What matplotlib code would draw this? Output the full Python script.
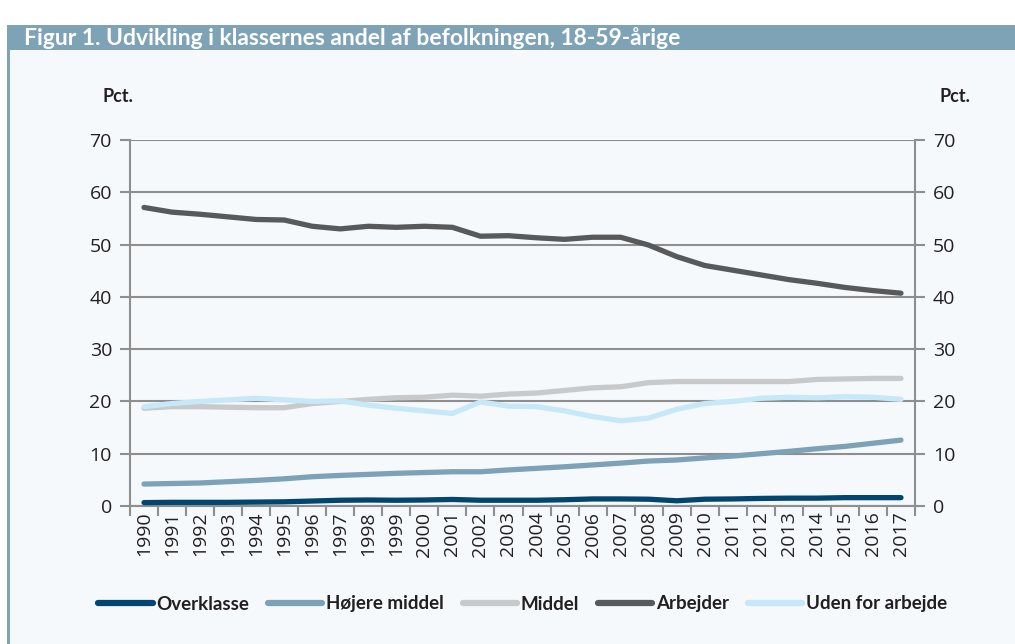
import matplotlib
matplotlib.use("Agg")
import matplotlib.pyplot as plt
from matplotlib.patches import Rectangle
from matplotlib.lines import Line2D
import numpy as np

years = [str(y) for y in range(1990, 2018)]
overklasse = [0.65, 0.7, 0.7, 0.7, 0.75, 0.8, 0.95, 1.1, 1.15, 1.1, 1.15, 1.25, 1.1, 1.1,
              1.1, 1.2, 1.35, 1.35, 1.3, 1.0, 1.3, 1.35, 1.45, 1.5, 1.5, 1.6, 1.6, 1.6]
hoejere_middel = [4.2, 4.3, 4.4, 4.65, 4.9, 5.2, 5.6, 5.85, 6.05, 6.25, 6.4, 6.55, 6.55, 6.9,
                  7.2, 7.5, 7.85, 8.2, 8.6, 8.8, 9.2, 9.55, 10.0, 10.45, 10.95, 11.4, 12.0, 12.6]
middel = [18.7, 19.0, 19.0, 18.9, 18.8, 18.8, 19.6, 20.0, 20.4, 20.7, 20.8, 21.2, 21.0, 21.4,
          21.6, 22.1, 22.6, 22.8, 23.6, 23.8, 23.8, 23.8, 23.8, 23.8, 24.2, 24.3, 24.4, 24.4]
arbejder = [57.1, 56.2, 55.8, 55.3, 54.8, 54.7, 53.5, 53.0, 53.5, 53.3, 53.5, 53.3, 51.6, 51.7,
            51.3, 51.0, 51.4, 51.4, 49.9, 47.7, 46.0, 45.1, 44.2, 43.3, 42.6, 41.8, 41.2, 40.7]
uden = [19.0, 19.6, 20.0, 20.3, 20.6, 20.3, 20.0, 20.1, 19.3, 18.7, 18.2, 17.7, 19.9, 19.1,
        19.0, 18.2, 17.1, 16.3, 16.8, 18.5, 19.6, 20.0, 20.6, 20.8, 20.7, 20.9, 20.8, 20.4]

series_names = ["Overklasse", "Højere middel", "Middel", "Arbejder", "Uden for arbejde"]
series_colors = ["#034571", "#7da2b8", "#c8c9ca", "#58595b", "#c7e8f8"]
y_ticks = [0, 10, 20, 30, 40, 50, 60, 70]

title = "Figur 1. Udvikling i klassernes andel af befolkningen, 18-59-årige"
bg = "#f5f9fc"
bar_col = "#7ea3b7"
grid_col = "#8e8e8e"
txt_col = "#231f20"

W, H = 1015, 644
fig = plt.figure(figsize=(W / 100, H / 100), dpi=100)
fig.patch.set_facecolor("white")

# panel background, title bar, left stripe
fig.add_artist(Rectangle((7 / W, 0), 1 - 7 / W, 1 - 25 / H, transform=fig.transFigure,
                         facecolor=bg, edgecolor="none", zorder=0))
fig.add_artist(Rectangle((7 / W, 1 - 50 / H), 1 - 7 / W, 25 / H, transform=fig.transFigure,
                         facecolor=bar_col, edgecolor="none", zorder=1))
fig.add_artist(Rectangle((7 / W, 0), 3 / W, 1 - 25 / H, transform=fig.transFigure,
                         facecolor=bar_col, edgecolor="none", zorder=1))
fig.text(24 / W, 1 - 45 / H, title, color="white", fontsize=16.5, fontweight="bold",
         family="Lato", va="baseline", ha="left")

ax = fig.add_axes([130 / W, 1 - 506 / H, (915 - 130) / W, (506 - 140) / H])
ax.set_facecolor("none")
x = np.arange(len(years))
data = [overklasse, hoejere_middel, middel, arbejder, uden]
for name, vals, col in zip(series_names, data, series_colors):
    ax.plot(x, vals, color=col, lw=3.8, solid_capstyle="round", solid_joinstyle="round",
            label=name, zorder=3)

ax.set_xlim(-0.5, len(years) - 0.5)
ax.set_ylim(0, 70)
ax.set_yticks(y_ticks)
ax.set_yticklabels([str(t) for t in y_ticks])
ax.yaxis.grid(True, color=grid_col, lw=1.5, zorder=1)
ax.set_axisbelow(True)
ax.spines["top"].set_visible(False)
for s in ["left", "right", "bottom"]:
    ax.spines[s].set_color(grid_col)
    ax.spines[s].set_linewidth(1.5)

ax.set_xticks(x)
ax.set_xticklabels(years, rotation=90, fontsize=14, color=txt_col, family="Open Sans")
ax.set_xticks(np.arange(-0.5, len(years)), minor=True)
ax.tick_params(axis="x", which="major", length=0, pad=4)
ax.tick_params(axis="x", which="minor", length=7, width=1.5, color=grid_col, direction="out")
ax.tick_params(axis="y", which="major", length=7, width=1.5, color=grid_col,
               labelsize=14, labelcolor=txt_col, left=True, right=True,
               labelleft=True, labelright=True, pad=6)
for lab in ax.get_yticklabels():
    lab.set_family("Open Sans")

fig.text(118 / W, 1 - 97 / H, "Pct.", fontsize=13, fontweight="bold", family="Lato",
         color=txt_col, ha="center", va="center")
fig.text(955 / W, 1 - 97 / H, "Pct.", fontsize=13, fontweight="bold", family="Lato",
         color=txt_col, ha="center", va="center")

handles = [Line2D([0], [0], color=c, lw=4.5, solid_capstyle="round") for c in series_colors]
leg = fig.legend(handles, series_names, loc="center", bbox_to_anchor=(0.515, 1 - 604 / H),
                 ncol=5, frameon=False, handlelength=2.9, handletextpad=0.2,
                 columnspacing=1.0, prop={"family": "Lato", "weight": "bold", "size": 13.5})
for t in leg.get_texts():
    t.set_color(txt_col)

fig.savefig("out.png", dpi=100, facecolor=fig.get_facecolor())
